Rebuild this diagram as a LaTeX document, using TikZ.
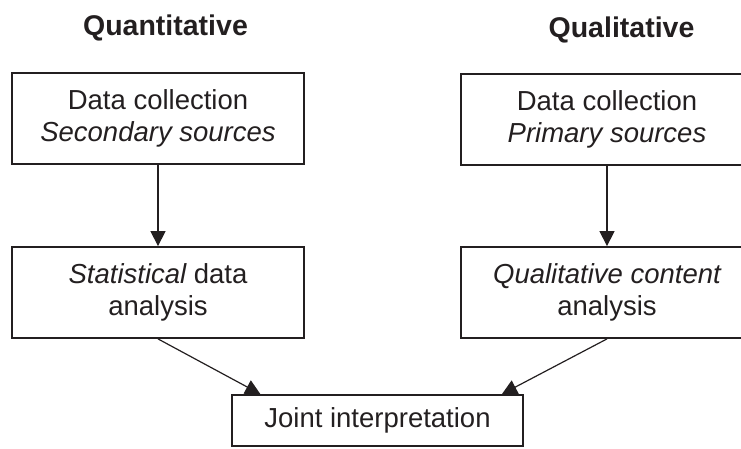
\documentclass[tikz,border=0pt]{standalone}
\usepackage{fontspec}
\setmainfont{Liberation Sans}
\usetikzlibrary{arrows.meta,calc}
\definecolor{ink}{HTML}{231F20}
\begin{document}
\begin{tikzpicture}[x=1pt,y=-1pt,
  box/.style={draw=ink,line width=1.8pt,inner sep=0pt,minimum width=292pt,minimum height=91pt,
    align=center,text=ink,font=\fontsize{27.5}{32}\selectfont},
  ttl/.style={text=ink,inner sep=0pt,font=\fontsize{28.5}{34}\selectfont\bfseries},
  arr/.style={draw=ink,line width=1.2pt,-{Triangle[length=15pt,width=15pt]}}]
\useasboundingbox (0,0) rectangle (741,448);
\clip (0,0) rectangle (741,448);
\node[ttl] (t1) at (165.5,28) {Quantitative};
\node[ttl] (t2) at (621.5,30) {Qualitative};
\node[box] (b1) at (158,118.5) {Data collection\\\itshape Secondary sources};
\node[box] (b2) at (607,119.5) {Data collection\\\itshape Primary sources};
\node[box] (b3) at (158,292.5) {\itshape Statistical\upshape{} data\\analysis};
\node[box] (b4) at (607,292.5) {\itshape Qualitative content\\analysis};
\node[box,minimum width=291pt,minimum height=51pt] (b5) at (377.5,420.5) {Joint interpretation};
\draw[arr] (b1.south) -- (b3.north);
\draw[arr] (b2.south) -- (b4.north);
\draw[arr] (b3.south) -- ($(b5.north west)!0.1!(b5.north east)$);
\draw[arr] (b4.south) -- ($(b5.north west)!0.925!(b5.north east)$);
\end{tikzpicture}
\end{document}
